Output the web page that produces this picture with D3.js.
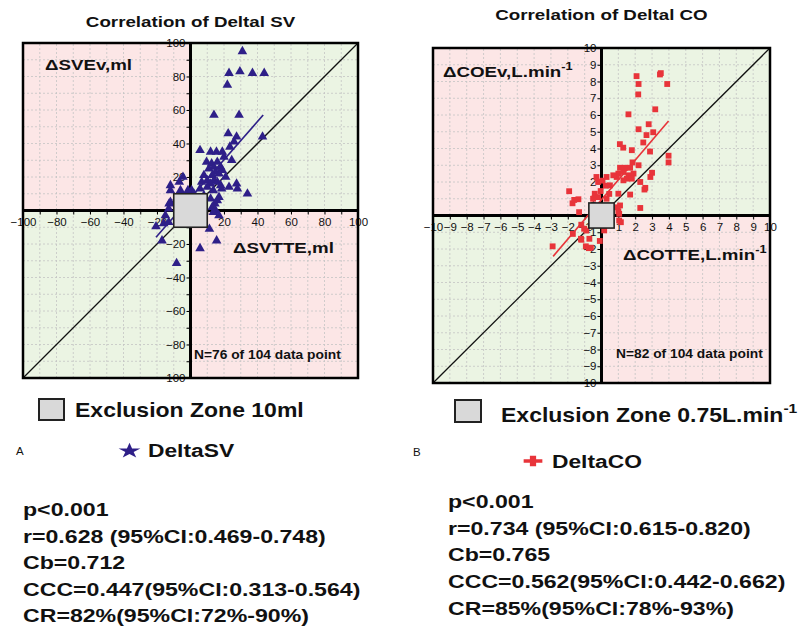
<!DOCTYPE html>
<html>
<head>
<meta charset="utf-8">
<script src="https://cdn.jsdelivr.net/npm/d3@7"></script>
<style>body{margin:0;background:#fff;}</style>
</head>
<body>
<script>
'use strict';

const W = 800;
const H = 631;

// ---- data ----
const svTicks = [-100, -80, -60, -40, -20, 20, 40, 60, 80, 100];
const svMinor = [-90, -70, -50, -30, -10, 10, 30, 50, 70, 90];
const coTicks = [-10, -9, -8, -7, -6, -5, -4, -3, -2, -1, 1, 2, 3, 4, 5, 6, 7, 8, 9, 10];

// [ΔSV TTE, ΔSV Ev]
const deltaSV = [
  [31, 95], [23, 82], [29.5, 83], [37, 82], [44, 82], [22, 75], [14, 57], [29, 57], [22.5, 46], [27.5, 44], [43, 44], [26, 41],
  [5.7, 36], [12, 35], [15.5, 35], [19, 35], [23.5, 38], [24.6, 30], [20, 32], [9.6, 29], [12.6, 28], [14, 26], [16, 29], [18, 26],
  [11, 25], [15, 23], [17, 22], [13, 21], [19, 24], [21, 20], [8, 21], [14, 18], [16, 17], [18, 15], [10, 18], [12, 16],
  [-4.5, 20], [-6.7, 17], [-12, 15], [-12, 12], [0.7, 12], [-1.5, 12], [-6, 12], [5.7, 13], [6.7, 17], [10, 14], [13.6, 12],
  [18.6, 13], [23, 14], [27.5, 16], [28, 13], [34, 10], [17, 8], [12, 7], [14.6, 4], [16, 6], [13, 2], [15, 0], [13.6, -1],
  [17, -3], [11.3, -11], [-12, 5], [-12.8, 4], [-13, 1], [-15, -3], [-20.6, -9.6], [-16, -7.7], [-13, -7], [-17, -18],
  [-8.3, -31.5], [5.7, -22.6], [15.6, -18], [-4, 6], [2, 10], [8, 9], [-8, 8]
];
// [ΔCO TTE, ΔCO Ev]
const deltaCO = [
  [2.08, 8.32], [2.2, 7.85], [2.18, 7.23], [3.47, 8.42], [3.52, 8.5], [3.9, 7.85], [1.6, 6.04], [3.19, 6.34], [2.8, 5.45],
  [2.2, 5.15], [3.07, 4.97], [2.67, 4.8], [2.48, 4.36], [1.09, 4.26], [1.29, 4.05], [1.8, 3.9], [2.88, 3.82], [3.98, 3.57],
  [3.98, 3.17], [1.84, 3.17], [2.2, 3.0], [1.1, 2.85], [1.4, 2.85], [1.7, 2.85],
  [1.0, 2.5], [1.3, 2.6], [1.6, 2.4], [1.9, 2.5], [1.5, 2.2], [1.8, 2.2], [1.3, 2.1], [0.9, 2.3], [0.7, 2.4], [0.3, 2.3],
  [-0.3, 2.3], [-0.2, 2.0], [0.06, 2.08], [0.26, 1.78], [0.5, 1.8], [2.3, 2.0], [2.6, 1.65], [2.55, 1.55], [3.0, 2.55],
  [2.9, 2.3], [1.0, 1.3], [1.7, 1.25], [0.46, 1.29], [-0.05, 1.46], [-0.4, 1.3], [-0.2, 1.1], [0.3, 1.0], [-0.5, 1.0],
  [-1.92, 1.45], [-1.72, 0.73], [-1.62, 0.93], [-1.37, 0.97], [-1.33, 0.2], [-1.2, -0.55], [-0.9, -0.9],
  [-1.7, -1.1], [-1.03, -0.79], [-1.22, -1.39], [-1.2, -1.45], [-0.72, -1.39], [-0.93, -1.84], [-0.63, -1.92],
  [-0.1, -1.52], [0.16, -0.89], [-2.9, -1.84], [-0.75, -1.95],
  [0.95, 0.49], [1.05, 0.1], [1.15, -0.4], [1.05, -0.3], [2.3, 0.45], [1.1, 0.6], [1.0, 0.25]
];

// regression lines, end points
const svFitX = [-20.6, 43.4];
const svFitY = [-16, 57];
const coFitX = [-2.87, 3.98];
const coFitY = [-2.44, 5.64];

const svStats = ['p<0.001', 'r=0.628 (95%CI:0.469-0.748)', 'Cb=0.712', 'CCC=0.447(95%CI:0.313-0.564)', 'CR=82%(95%CI:72%-90%)'];
const coStats = ['p<0.001', 'r=0.734 (95%CI:0.615-0.820)', 'Cb=0.765', 'CCC=0.562(95%CI:0.442-0.662)', 'CR=85%(95%CI:78%-93%)'];
/////////////////////////////////////////

const pink = '#fce6e6';
const green = '#ebf4e3';
const blue = '#2e1f88';
const red = '#e8343a';

const svg = d3.select('body').append('svg')
  .attr('width', W).attr('height', H)
  .style('font-family', '"Liberation Sans", Arial, Helvetica, sans-serif');

// text is stretched sideways in the original, so scale it in x
function label(parent, x, y, parts, size, sx, anchor, weight) {
  const t = parent.append('text')
    .attr('transform', `translate(${x},${y}) scale(${sx},1)`)
    .attr('font-size', size)
    .attr('font-weight', weight || 'bold')
    .attr('text-anchor', anchor || 'start')
    .attr('fill', '#111');
  (Array.isArray(parts) ? parts : [{t: parts}]).forEach((p) => {
    const s = t.append('tspan').text(p.t);
    if (p.sup) s.attr('font-size', size * 0.68).attr('dy', -size * 0.45);
  });
  return t;
}

function panel(cfg) {
  const m = cfg.max;
  const x = d3.scaleLinear().domain([-m, m]).range([cfg.x0, cfg.x1]);
  const y = d3.scaleLinear().domain([-m, m]).range([cfg.y1, cfg.y0]);
  const g = svg.append('g');

  // quadrant backgrounds
  const quads = [[-1, 1, pink], [1, 1, green], [-1, -1, green], [1, -1, pink]];
  g.selectAll('rect.q').data(quads).enter().append('rect')
    .attr('x', (d) => Math.min(x(0), x(d[0] * m)))
    .attr('y', (d) => Math.min(y(0), y(d[1] * m)))
    .attr('width', (d) => Math.abs(x(d[0] * m) - x(0)))
    .attr('height', (d) => Math.abs(y(d[1] * m) - y(0)))
    .attr('fill', (d) => d[2]);

  // dashed grid
  g.selectAll('line.gx').data(cfg.grid).enter().append('line')
    .attr('x1', (d) => x(d)).attr('x2', (d) => x(d))
    .attr('y1', y(-m)).attr('y2', y(m))
    .attr('stroke', '#c4c4c4').attr('stroke-width', 0.8).attr('stroke-dasharray', '2,2');
  g.selectAll('line.gy').data(cfg.grid).enter().append('line')
    .attr('y1', (d) => y(d)).attr('y2', (d) => y(d))
    .attr('x1', x(-m)).attr('x2', x(m))
    .attr('stroke', '#c4c4c4').attr('stroke-width', 0.8).attr('stroke-dasharray', '2,2');

  // line of identity
  g.append('line')
    .attr('x1', x(-m)).attr('y1', y(-m)).attr('x2', x(m)).attr('y2', y(m))
    .attr('stroke', '#111').attr('stroke-width', 1.3);

  // thick zero axes
  g.append('line').attr('x1', x(0)).attr('x2', x(0)).attr('y1', y(-m)).attr('y2', y(m))
    .attr('stroke', '#000').attr('stroke-width', 3);
  g.append('line').attr('y1', y(0)).attr('y2', y(0)).attr('x1', x(-m)).attr('x2', x(m))
    .attr('stroke', '#000').attr('stroke-width', 3);

  // ticks and labels
  const styleAxis = (sel) => {
    sel.select('.domain').remove();
    sel.selectAll('line').attr('stroke', '#000').attr('stroke-width', 1);
    sel.selectAll('text').attr('font-size', 11.5).attr('fill', '#111')
      .attr('font-family', '"Liberation Sans", Arial, sans-serif');
  };
  if (cfg.minor) {
    g.append('g').attr('transform', `translate(0,${y(0)})`)
      .call(d3.axisBottom(x).tickValues(cfg.minor).tickSize(4).tickFormat('')).call(styleAxis);
    g.append('g').attr('transform', `translate(${x(0)},0)`)
      .call(d3.axisLeft(y).tickValues(cfg.minor).tickSize(4).tickFormat('')).call(styleAxis);
  }
  g.append('g').attr('transform', `translate(0,${y(0)})`)
    .call(d3.axisBottom(x).tickValues(cfg.ticks).tickSize(4).tickPadding(3)).call(styleAxis);
  g.append('g').attr('transform', `translate(${x(0)},0)`)
    .call(d3.axisLeft(y).tickValues(cfg.ticks).tickSize(4).tickPadding(1)).call(styleAxis);

  // fit line
  g.append('line')
    .attr('x1', x(cfg.fitX[0])).attr('y1', y(cfg.fitY[0]))
    .attr('x2', x(cfg.fitX[1])).attr('y2', y(cfg.fitY[1]))
    .attr('stroke', cfg.color).attr('stroke-width', 1.6);

  // points
  g.selectAll('path.pt').data(cfg.data).enter().append('path')
    .attr('transform', (d) => `translate(${x(d[0])},${y(d[1])})`)
    .attr('d', d3.symbol().type(cfg.symbol).size(cfg.symbolSize))
    .attr('fill', cfg.color);

  // exclusion zone
  g.append('rect')
    .attr('x', x(-cfg.ez)).attr('y', y(cfg.ez))
    .attr('width', x(cfg.ez) - x(-cfg.ez)).attr('height', y(-cfg.ez) - y(cfg.ez))
    .attr('fill', '#d9d9d9').attr('stroke', '#222').attr('stroke-width', 1.6);

  // frame
  g.append('rect')
    .attr('x', cfg.x0).attr('y', cfg.y0)
    .attr('width', cfg.x1 - cfg.x0).attr('height', cfg.y1 - cfg.y0)
    .attr('fill', 'none').attr('stroke', '#000').attr('stroke-width', 2.5);

  // titles and labels
  label(g, (cfg.x0 + cfg.x1) / 2, cfg.titleY, cfg.title, 15, 1.25, 'middle');
  label(g, cfg.yLab[0], cfg.yLab[1], cfg.yName, 15, 1.25);
  label(g, cfg.xLab[0], cfg.xLab[1], cfg.xName, 15, 1.25);
  label(g, cfg.nLab[0], cfg.nLab[1], cfg.nText, 12, 1.15);
  return g;
}

panel({
  x0: 23, x1: 358, y0: 43, y1: 378, max: 100, ez: 10,
  grid: d3.range(-90, 100, 10), ticks: svTicks, minor: svMinor,
  data: deltaSV, fitX: svFitX, fitY: svFitY,
  color: blue, symbol: d3.symbolTriangle, symbolSize: 40,
  title: 'Correlation of Deltal SV', titleY: 27,
  yName: 'ΔSVEv,ml', yLab: [45, 70],
  xName: 'ΔSVTTE,ml', xLab: [233, 253],
  nText: 'N=76 of 104 data point', nLab: [194, 359]
});

panel({
  x0: 433, x1: 770, y0: 48, y1: 383, max: 10, ez: 0.75,
  grid: d3.range(-9, 10, 1), ticks: coTicks, minor: null,
  data: deltaCO, fitX: coFitX, fitY: coFitY,
  color: red, symbol: d3.symbolSquare, symbolSize: 34,
  title: 'Correlation of Deltal CO', titleY: 20,
  yName: [{t: 'ΔCOEv,L.min'}, {t: '-1', sup: true}], yLab: [443, 77],
  xName: [{t: 'ΔCOTTE,L.min'}, {t: '-1', sup: true}], xLab: [623, 260],
  nText: 'N=82 of 104 data point', nLab: [616, 358]
});

// legends
const leg = svg.append('g');
leg.append('rect').attr('x', 39).attr('y', 399).attr('width', 25).attr('height', 21)
  .attr('fill', '#d9d9d9').attr('stroke', '#222').attr('stroke-width', 2);
label(leg, 75, 417, 'Exclusion Zone 10ml', 20, 1.15);
leg.append('rect').attr('x', 455).attr('y', 400).attr('width', 26).attr('height', 22)
  .attr('fill', '#d9d9d9').attr('stroke', '#222').attr('stroke-width', 2);
label(leg, 501, 422, [{t: 'Exclusion Zone 0.75L.min'}, {t: '-1', sup: true}], 20, 1.15);

label(leg, 16, 455, 'A', 10, 1.15, 'start', 'normal');
label(leg, 413, 456, 'B', 10, 1.15, 'start', 'normal');

leg.append('path').attr('transform', 'translate(129.5,451) scale(1.4,1)')
  .attr('d', d3.symbol().type(d3.symbolStar).size(75)).attr('fill', blue);
label(leg, 148, 457, 'DeltaSV', 19, 1.2);
leg.append('path').attr('transform', 'translate(533,461) scale(1.8,1)')
  .attr('d', d3.symbol().type(d3.symbolCross).size(60)).attr('fill', red);
label(leg, 552, 468, 'DeltaCO', 19, 1.2);

// statistics
svStats.forEach((s, i) => label(leg, 23, 516 + i * 26.5, s, 18.5, 1.25));
coStats.forEach((s, i) => label(leg, 448, 508 + i * 26.7, s, 18.5, 1.25));
</script>
</body>
</html>
